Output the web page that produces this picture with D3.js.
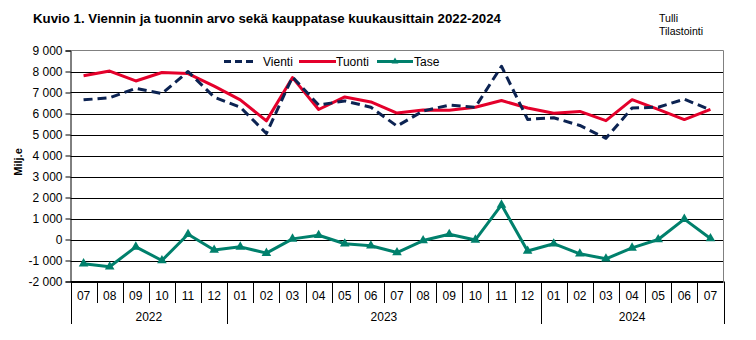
<!DOCTYPE html>
<html>
<head>
<meta charset="utf-8">
<script src="https://cdn.jsdelivr.net/npm/d3@7"></script>
<style>
  html, body { margin: 0; padding: 0; background: #fff; }
  svg { display: block; font-family: "Liberation Sans", Arial, sans-serif; }
</style>
</head>
<body>
<svg id="chart" width="756" height="340"></svg>
<script>
// Monthly values, million euros, 07/2022 – 07/2024
const months = ["07","08","09","10","11","12",
                "01","02","03","04","05","06","07","08","09","10","11","12",
                "01","02","03","04","05","06","07"];
const years = [
  { label: "2022", from: 0, to: 6 },
  { label: "2023", from: 6, to: 18 },
  { label: "2024", from: 18, to: 25 }
];
const vienti = [6650, 6750, 7200, 6950, 8000, 6780,
                6300, 5050, 7740, 6400, 6600, 6300, 5400, 6120, 6400, 6300, 8250, 5720,
                5800, 5430, 4820, 6260, 6300, 6680, 6170];
const tuonti = [7800, 8020, 7550, 7950, 7900, 7300,
                6650, 5650, 7710, 6190, 6790, 6550, 6020, 6170, 6150, 6300, 6620, 6260,
                6010, 6100, 5660, 6660, 6200, 5710, 6200];
const tase   = [-1150, -1300, -350, -1000, 250, -500,
                -350, -650, 30, 200, -200, -300, -620, -50, 250, -20, 1650, -550,
                -200, -680, -920, -400, 0, 970, 50];
const yTicks = [-2000, -1000, 0, 1000, 2000, 3000, 4000, 5000, 6000, 7000, 8000, 9000];

const svg = d3.select("#chart");
const plot = { left: 70.5, right: 723.5, top: 50.5, bottom: 281.5 };

const x = d3.scaleBand().domain(d3.range(months.length))
  .range([plot.left, plot.right]).padding(0);
const xc = i => x(i) + x.bandwidth() / 2;
const y = d3.scaleLinear().domain([-2000, 9000]).range([plot.bottom, plot.top]);

// Thousands separated by a space, plain hyphen as minus
const fmt = v => d3.format(",")(v).replace(/,/g, " ").replace("\u2212", "-");

// Title and source
svg.append("text").attr("x", 33).attr("y", 23)
  .attr("font-size", 13).attr("font-weight", "bold")
  .attr("textLength", 468).attr("lengthAdjust", "spacingAndGlyphs")
  .text("Kuvio 1. Viennin ja tuonnin arvo sekä kauppatase kuukausittain  2022-2024");
svg.append("text").attr("x", 659).attr("y", 22).attr("font-size", 11)
  .attr("textLength", 19).attr("lengthAdjust", "spacingAndGlyphs").text("Tulli");
svg.append("text").attr("x", 659).attr("y", 35).attr("font-size", 11)
  .attr("textLength", 44).attr("lengthAdjust", "spacingAndGlyphs").text("Tilastointi");

// Horizontal gridlines
svg.append("g").selectAll("line").data(yTicks.filter(t => t !== 9000)).join("line")
  .attr("x1", plot.left).attr("x2", plot.right)
  .attr("y1", d => Math.round(y(d)) + 0.5).attr("y2", d => Math.round(y(d)) + 0.5)
  .attr("stroke", "#000").attr("stroke-width", 1);

// Plot frame (top and right in grey)
svg.append("path")
  .attr("d", `M${plot.left},${plot.top}H${plot.right}V${plot.bottom}`)
  .attr("fill", "none").attr("stroke", "#808080").attr("stroke-width", 1);

// Y axis
const yAxis = d3.axisLeft(y).tickValues(yTicks).tickSize(5).tickFormat(fmt);
const gy = svg.append("g").attr("transform", `translate(${plot.left},0)`).call(yAxis);
gy.select(".domain").attr("stroke", "#000");
gy.selectAll(".tick line").attr("stroke", "#000");
gy.selectAll(".tick text").attr("font-size", 12).attr("fill", "#000")
  .attr("font-family", "Liberation Sans, Arial, sans-serif").attr("x", -8);

svg.append("text")
  .attr("transform", `translate(22,162) rotate(-90)`)
  .attr("text-anchor", "middle").attr("font-size", 11).attr("font-weight", "bold")
  .text("Milj.e");

// X axis: month row and year row
const gx = svg.append("g");
gx.append("line").attr("x1", plot.left).attr("x2", plot.right)
  .attr("y1", plot.bottom).attr("y2", plot.bottom).attr("stroke", "#000");
gx.selectAll("line.mt").data(d3.range(months.length + 1)).join("line")
  .attr("class", "mt")
  .attr("x1", i => Math.round(i < months.length ? x(i) : plot.right) + 0.5)
  .attr("x2", i => Math.round(i < months.length ? x(i) : plot.right) + 0.5)
  .attr("y1", plot.bottom)
  .attr("y2", i => (years.some(yr => yr.from === i) || i === months.length) ? 324 : 303)
  .attr("stroke", "#000");
gx.selectAll("text.m").data(months).join("text")
  .attr("class", "m")
  .attr("x", (d, i) => xc(i)).attr("y", 300)
  .attr("text-anchor", "middle").attr("font-size", 12).text(d => d);
gx.selectAll("text.yr").data(years).join("text")
  .attr("class", "yr")
  .attr("x", d => (x(d.from) + (d.to < months.length ? x(d.to) : plot.right)) / 2)
  .attr("y", 321).attr("text-anchor", "middle").attr("font-size", 12)
  .text(d => d.label);

// Series
const line = d3.line().x((d, i) => xc(i)).y(d => y(d));
const cV = "#0c2352", cT = "#e4002b", cS = "#00806c";

svg.append("path").datum(tuonti).attr("d", line)
  .attr("fill", "none").attr("stroke", cT).attr("stroke-width", 3)
  .attr("stroke-linejoin", "round");
svg.append("path").datum(vienti).attr("d", line)
  .attr("fill", "none").attr("stroke", cV).attr("stroke-width", 3)
  .attr("stroke-dasharray", "9,5").attr("stroke-linejoin", "round");
svg.append("path").datum(tase).attr("d", line)
  .attr("fill", "none").attr("stroke", cS).attr("stroke-width", 3)
  .attr("stroke-linejoin", "round");
const tri = d3.symbol().type(d3.symbolTriangle).size(40);
svg.append("g").selectAll("path").data(tase).join("path")
  .attr("transform", (d, i) => `translate(${xc(i)},${y(d)})`)
  .attr("d", tri).attr("fill", cS);

// Legend
const lg = svg.append("g").attr("font-size", 12);
const items = [
  { name: "Vienti", color: cV, dash: "7,4", x1: 224, x2: 256, tx: 263 },
  { name: "Tuonti", color: cT, dash: null, x1: 299, x2: 336, tx: 336 },
  { name: "Tase", color: cS, dash: null, x1: 377, x2: 413, tx: 414, marker: true }
];
items.forEach(it => {
  lg.append("line").attr("x1", it.x1).attr("x2", it.x2)
    .attr("y1", 61.5).attr("y2", 61.5)
    .attr("stroke", it.color).attr("stroke-width", 3)
    .attr("stroke-dasharray", it.dash);
  if (it.marker) {
    lg.append("path").attr("transform", `translate(${(it.x1 + it.x2) / 2},61.5)`)
      .attr("d", d3.symbol().type(d3.symbolTriangle).size(20)).attr("fill", it.color);
  }
  lg.append("text").attr("x", it.tx).attr("y", 66).text(it.name);
});
</script>
</body>
</html>
